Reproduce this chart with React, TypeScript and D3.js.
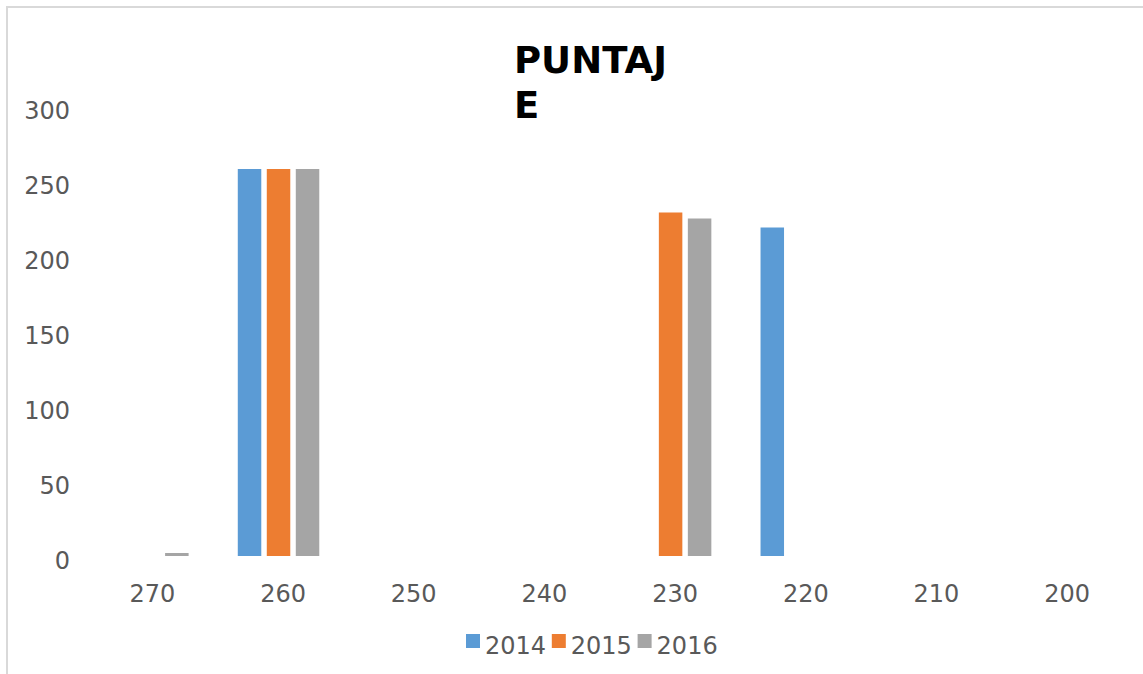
import React, { useEffect, useRef } from "react";
import * as d3 from "d3";

// chart values
const categories = ["270", "260", "250", "240", "230", "220", "210", "200"];
const years = ["2014", "2015", "2016"];
const values2014: (number | null)[] = [null, 258, null, null, null, 219, null, null];
const values2015: (number | null)[] = [null, 258, null, null, 229, null, null, null];
const values2016: (number | null)[] = [2, 258, null, null, 225, null, null, null];
const yTicks = [0, 50, 100, 150, 200, 250, 300];
const colors = ["#5B9BD5", "#ED7D31", "#A5A5A5"];

const W = 1143;
const H = 674;

export default function App() {
  const ref = useRef<SVGSVGElement | null>(null);

  useEffect(() => {
    const svg = d3.select(ref.current);
    svg.selectAll("*").remove();

    const font = "DejaVu Sans, Verdana, sans-serif";
    const textColor = "#595959";

    // chart frame (runs past the window on the right and bottom)
    svg.append("rect")
      .attr("x", 7)
      .attr("y", 7)
      .attr("width", 1200)
      .attr("height", 720)
      .attr("fill", "#fff")
      .attr("stroke", "#d9d9d9")
      .attr("stroke-width", 2);

    const series = [values2014, values2015, values2016];

    const x0 = d3.scaleBand<string>()
      .domain(categories)
      .range([82.5, 1128])
      .padding(0);

    const x1 = d3.scaleBand<string>()
      .domain(years)
      .range([-43.5, 43.5])
      .paddingInner(0.19)
      .paddingOuter(0.095);

    const y = d3.scaleLinear()
      .domain([0, 300])
      .range([556, 106]);

    // y labels
    svg.append("g")
      .selectAll("text")
      .data(yTicks)
      .enter()
      .append("text")
      .attr("x", 70)
      .attr("y", d => y(d) + 13.3)
      .attr("text-anchor", "end")
      .attr("font-family", font)
      .attr("font-size", 24)
      .attr("fill", textColor)
      .text(d => d);

    // x labels
    svg.append("g")
      .selectAll("text")
      .data(categories)
      .enter()
      .append("text")
      .attr("x", d => (x0(d) as number) + x0.bandwidth() / 2 + 4.5)
      .attr("y", 601.7)
      .attr("text-anchor", "middle")
      .attr("font-family", font)
      .attr("font-size", 24)
      .attr("fill", textColor)
      .text(d => d);

    // bars
    series.forEach((vals, si) => {
      const rows = categories
        .map((c, i) => ({ c, v: vals[i] }))
        .filter(r => r.v != null) as { c: string; v: number }[];

      svg.append("g")
        .selectAll("rect")
        .data(rows)
        .enter()
        .append("rect")
        .attr("x", r => (x0(r.c) as number) + x0.bandwidth() / 2 + (x1(years[si]) as number))
        .attr("y", r => y(r.v))
        .attr("width", x1.bandwidth())
        .attr("height", r => y(0) - y(r.v))
        .attr("fill", colors[si]);
    });

    // title, wrapped on two lines like the original
    const title = svg.append("text")
      .attr("font-family", font)
      .attr("font-size", 37)
      .attr("font-weight", "bold")
      .attr("fill", "#000");
    title.append("tspan").attr("x", 514).attr("y", 73.3).text("PUNTAJ");
    title.append("tspan").attr("x", 514).attr("y", 118.3).text("E");

    // legend
    const legend = svg.append("g");
    years.forEach((yr, i) => {
      const lx = 466 + i * 85.8;
      legend.append("rect")
        .attr("x", lx)
        .attr("y", 634)
        .attr("width", 14)
        .attr("height", 14)
        .attr("fill", colors[i]);
      legend.append("text")
        .attr("x", lx + 19)
        .attr("y", 654.3)
        .attr("font-family", font)
        .attr("font-size", 24)
        .attr("fill", textColor)
        .text(yr);
    });
  }, []);

  return (
    <svg
      ref={ref}
      width={W}
      height={H}
      style={{ position: "absolute", left: 0, top: 0, background: "#fff" }}
    />
  );
}
